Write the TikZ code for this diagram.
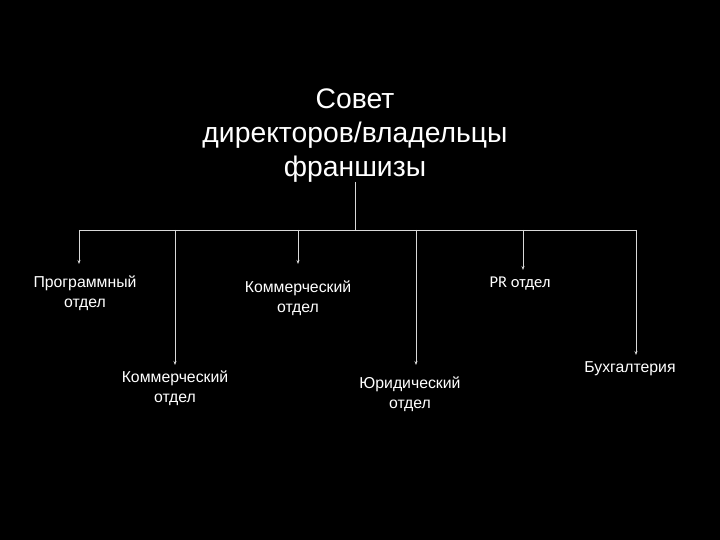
\documentclass[tikz,border=0pt]{standalone}
\usepackage{fontspec}
\setmainfont{Liberation Sans}
\newfontfamily\calfont{Carlito}
\usetikzlibrary{arrows.meta}
\begin{document}
\begin{tikzpicture}[x=1pt,y=-1pt,
  conn/.style={draw=white!85!black, line width=0.8pt},
  arr/.style={conn, -{Stealth[length=4pt,width=3pt]}},
  lbl/.style={text=white, align=center, inner sep=0pt, font=\fontsize{15.8}{19.5}\selectfont},
  ttl/.style={text=white, align=center, inner sep=0pt, font=\fontsize{28.3}{34}\selectfont}]
\fill[black] (0,0) rectangle (720,540);
\useasboundingbox (0,0) rectangle (720,540);
\node[ttl] (title) at (355,136) {Совет\\директоров/владельцы\\франшизы};
\coordinate (top) at (355,182);
\coordinate (hub) at (355,230);
\coordinate (b1) at (79,230);
\coordinate (b2) at (175,230);
\coordinate (b3) at (298,230);
\coordinate (b4) at (416,230);
\coordinate (b5) at (523,230);
\coordinate (b6) at (636,230);
\coordinate (e1) at (79,264);
\coordinate (e2) at (175,365);
\coordinate (e3) at (298,264);
\coordinate (e4) at (416,365);
\coordinate (e5) at (523,270);
\coordinate (e6) at (636,355);
\node[lbl] (prog) at (85,293) {Программный\\отдел};
\node[lbl] (com1) at (175,388) {Коммерческий\\отдел};
\node[lbl] (com2) at (298,298) {Коммерческий\\отдел};
\node[lbl] (jur) at (410,394) {Юридический\\отдел};
\node[lbl, font=\calfont\fontsize{16.5}{19.5}\selectfont] (pr) at (520,284) {PR отдел};
\node[lbl] (buh) at (630,369) {Бухгалтерия};
\draw[conn] (top) -- (hub);
\draw[conn] (b1) -- (b6);
\draw[arr] (b1) -- (e1);
\draw[arr] (b2) -- (e2);
\draw[arr] (b3) -- (e3);
\draw[arr] (b4) -- (e4);
\draw[arr] (b5) -- (e5);
\draw[arr] (b6) -- (e6);
\end{tikzpicture}
\end{document}
